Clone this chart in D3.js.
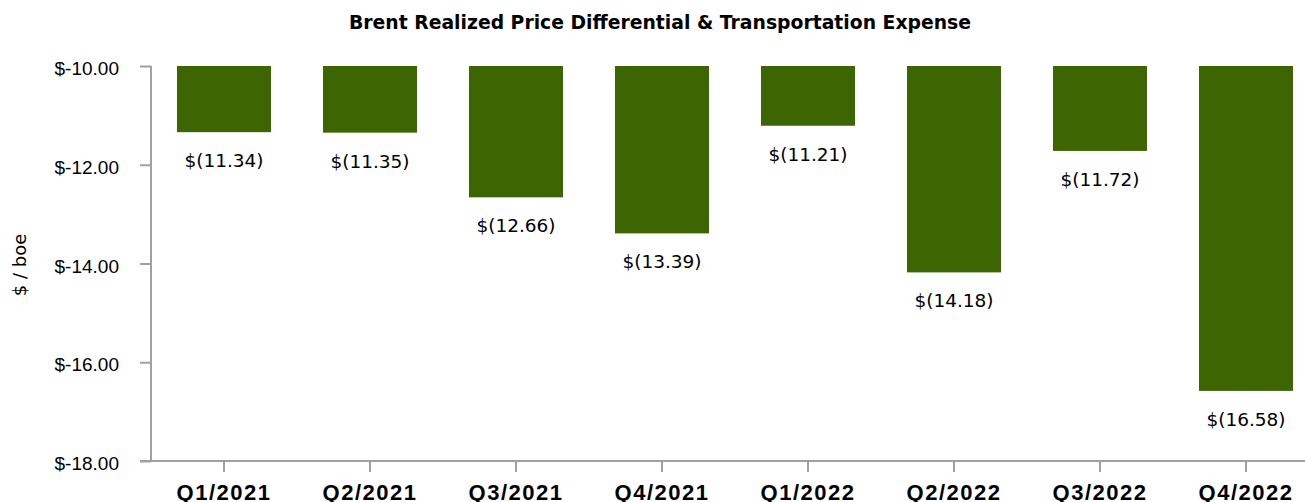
<!DOCTYPE html>
<html>
<head>
<meta charset="utf-8">
<script src="https://cdn.jsdelivr.net/npm/d3@7"></script>
<style>
  body { margin: 0; background: #fff; }
  svg { display: block; font-family: Tahoma, "DejaVu Sans", Verdana, sans-serif; }
</style>
</head>
<body>
<svg id="chart" width="1305" height="502"></svg>
<script>
// chart data
const quarters = ['Q1/2021', 'Q2/2021', 'Q3/2021', 'Q4/2021', 'Q1/2022', 'Q2/2022', 'Q3/2022', 'Q4/2022'];
const differential = [-11.34, -11.35, -12.66, -13.39, -11.21, -14.18, -11.72, -16.58];
const yTicks = [-10, -12, -14, -16, -18];

const svg = d3.select('#chart');
const barColor = '#3d6602';
const axisColor = '#a0a0a0';

const x = d3.scaleBand().domain(quarters).range([151, 1319]).paddingInner(0.356).paddingOuter(0.178);
const y = d3.scaleLinear().domain([-10, -18]).range([66, 461]);

// title
svg.append('text')
  .attr('x', 660).attr('y', 29)
  .attr('text-anchor', 'middle')
  .style('font-weight', 'bold').style('font-size', '18.8px')
  .text('Brent Realized Price Differential & Transportation Expense');

// y axis
const yAxis = d3.axisLeft(y).tickValues(yTicks).tickSize(11).tickPadding(21)
  .tickFormat(d => '$' + d3.format('.2f')(d).replace('\u2212', '-'));
const yG = svg.append('g').attr('transform', 'translate(151,0)').call(yAxis);
yG.select('.domain').remove();
yG.append('line').attr('x1', 0).attr('x2', 0).attr('y1', y(-10)).attr('y2', y(-18))
  .attr('stroke', axisColor).attr('stroke-width', 2);
yG.selectAll('.tick line').attr('stroke', axisColor).attr('stroke-width', 2);
yG.selectAll('.tick text').attr('fill', '#000').style('font-size', '19px').attr('dy', '0.45em');

svg.append('text')
  .attr('transform', 'translate(26,265) rotate(-90)')
  .attr('text-anchor', 'middle')
  .style('font-size', '18px')
  .text('$ / boe');

// x axis
const xAxis = d3.axisBottom(x).tickSize(11).tickPadding(10).tickSizeOuter(0);
const xG = svg.append('g').attr('transform', `translate(0,${y(-18)})`).call(xAxis);
xG.select('.domain').attr('stroke', axisColor).attr('stroke-width', 2).attr('d', `M140,0H1305`);
xG.selectAll('.tick line').attr('stroke', axisColor).attr('stroke-width', 2);
xG.selectAll('.tick text').attr('fill', '#000')
  .style('font-size', '22px').style('font-weight', 'bold').style('letter-spacing', '1.5px')
  .attr('y', 23);

// bars
const data = quarters.map((q, i) => ({ q, v: differential[i] }));
svg.selectAll('.bar')
  .data(data)
  .enter()
  .append('rect')
  .attr('class', 'bar')
  .attr('x', d => x(d.q))
  .attr('y', y(-10))
  .attr('width', x.bandwidth())
  .attr('height', d => y(d.v) - y(-10))
  .attr('fill', barColor);

svg.selectAll('.val')
  .data(data)
  .enter()
  .append('text')
  .attr('class', 'val')
  .attr('x', d => x(d.q) + x.bandwidth() / 2)
  .attr('y', d => y(d.v) + 35)
  .attr('text-anchor', 'middle')
  .style('font-size', '18.5px')
  .text(d => `$(${d3.format('.2f')(-d.v)})`);
</script>
</body>
</html>
